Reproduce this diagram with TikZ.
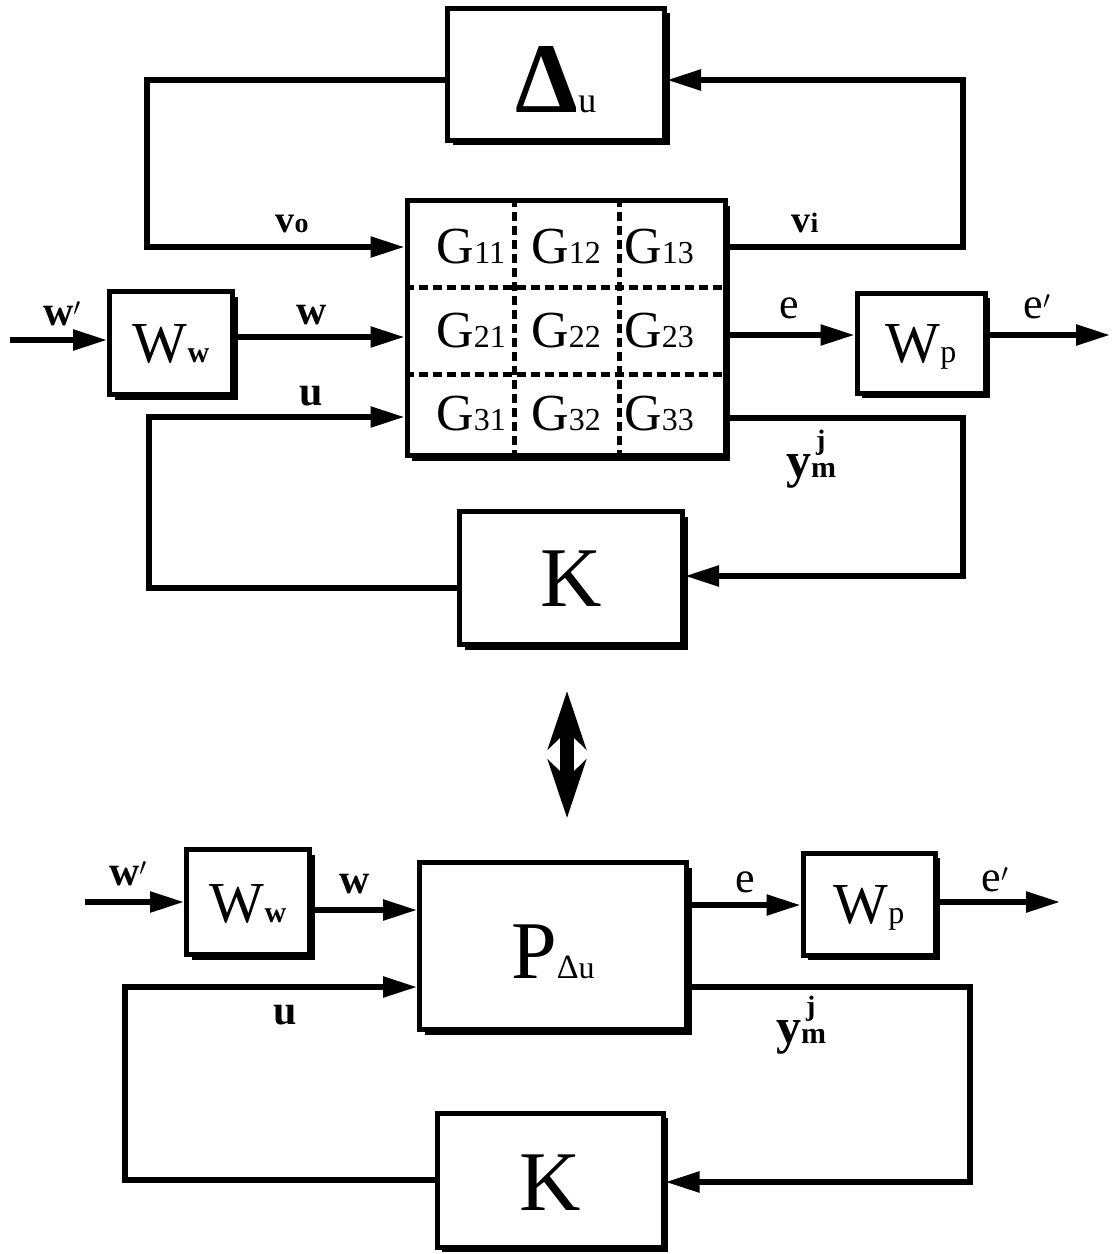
\documentclass[tikz,border=0pt]{standalone}
\usepackage{fontspec}
\setmainfont{Liberation Serif}
\usetikzlibrary{arrows.meta,shadows,calc}
\newcommand{\fsz}[1]{\fontsize{#1}{#1}\selectfont}
\begin{document}
\begin{tikzpicture}[x=1pt,y=-1pt,
  blk/.style={draw, line width=5pt, fill=white, inner sep=0pt,
    general shadow={fill=black, shadow xshift=5pt, shadow yshift=-5pt}},
  conn/.style={line width=5.5pt, line join=miter},
  arr/.style={conn, -{Triangle[length=34pt,width=20pt]}},
  sep/.style={line width=5pt, dash pattern=on 9pt off 5pt},
  lbl/.style={inner sep=0pt, anchor=base},
  dbl/.style={line width=14pt, {Stealth[length=58pt,width=38pt,inset=18pt]}-{Stealth[length=58pt,width=38pt,inset=18pt]}}
]
\useasboundingbox (0,0) rectangle (1113,1254);

% ---------------- top diagram ----------------
\node[blk, minimum width=217pt, minimum height=132pt] (Du) at (556,74) {};
\node[lbl] at (556,112) {\bfseries\fsz{100}Δ\mdseries\fsz{36}u};

\node[blk, minimum width=318pt, minimum height=255pt] (G) at (566,328) {};
\draw[sep] ($(G.north west)!0.34!(G.north east)$) -- ($(G.south west)!0.34!(G.south east)$);
\draw[sep] ($(G.north west)!0.665!(G.north east)$) -- ($(G.south west)!0.665!(G.south east)$);
\draw[sep] ($(G.north west)!0.345!(G.south west)$) -- ($(G.north east)!0.345!(G.south east)$);
\draw[sep] ($(G.north west)!0.68!(G.south west)$) -- ($(G.north east)!0.68!(G.south east)$);
\node[lbl] at (471,263) {\fsz{52}G\fsz{32}11};
\node[lbl] at (566,263) {\fsz{52}G\fsz{32}12};
\node[lbl] at (659,263) {\fsz{52}G\fsz{32}13};
\node[lbl] at (471,347) {\fsz{52}G\fsz{32}21};
\node[lbl] at (566,347) {\fsz{52}G\fsz{32}22};
\node[lbl] at (659,347) {\fsz{52}G\fsz{32}23};
\node[lbl] at (471,430) {\fsz{52}G\fsz{32}31};
\node[lbl] at (566,430) {\fsz{52}G\fsz{32}32};
\node[lbl] at (659,430) {\fsz{52}G\fsz{32}33};

\node[blk, minimum width=123pt, minimum height=103pt] (Ww) at (171,343) {};
\node[lbl] at (171,362) {\fsz{58}W\fsz{30}\bfseries w};

\node[blk, minimum width=128pt, minimum height=100pt] (Wp) at (921,343) {};
\node[lbl] at (921,362) {\fsz{58}W\fsz{32}p};

\node[blk, minimum width=223pt, minimum height=133pt] (K) at (571,578) {};
\node[lbl] at (571,606) {\fsz{85}K};

\coordinate (win) at (10,340);
\coordinate (eout) at (1110,335);

\draw[arr] (Du.west |- 0,80) -| (147,247) -- (G.west |- 0,247);
\draw[arr] (G.east |- 0,247) -| (963,80) -- (Du.east |- 0,80);
\draw[arr] (win) -- (Ww.west |- win);
\draw[arr] (Ww.east |- 0,337) -- (G.west |- 0,337);
\draw[arr] (K.west |- 0,588) -| (149,417) -- (G.west |- 0,417);
\draw[arr] (G.east |- 0,335) -- (Wp.west |- 0,335);
\draw[arr] (Wp.east |- eout) -- (eout);
\draw[arr] (G.east |- 0,418) -| (963,576) -- (K.east |- 0,576);

\node[lbl] at (292,232) {\bfseries\fsz{38}v\fsz{28}o};
\node[lbl] at (805,232) {\bfseries\fsz{38}v\fsz{28}i};
\node[lbl] at (62,325) {\bfseries\fsz{42}w$'$};
\node[lbl] at (312,324) {\bfseries\fsz{42}w};
\node[lbl] at (311,405) {\bfseries\fsz{42}u};
\node[lbl] at (789,318) {\fsz{44}e};
\node[lbl] at (1037,318) {\fsz{44}e$'$};
\node[lbl] at (811,477) {\bfseries\fsz{50}y\rlap{\hspace{5pt}\raisebox{28pt}{\fsz{28}j}}\fsz{30}m};

% ---------------- equivalence arrow ----------------
\coordinate (dA) at (567,691);
\coordinate (dB) at (567,818);
\draw[dbl] (dA) -- (dB);

% ---------------- bottom diagram ----------------
\node[blk, minimum width=123pt, minimum height=105pt] (Ww2) at (248,902) {};
\node[lbl] at (248,922) {\fsz{58}W\fsz{30}\bfseries w};

\node[blk, minimum width=267pt, minimum height=167pt] (P) at (553,946) {};
\node[lbl] at (553,978) {\fsz{82}P\fsz{34}Δ\fsz{32}u};

\node[blk, minimum width=132pt, minimum height=102pt] (Wp2) at (869,904) {};
\node[lbl] at (869,923) {\fsz{58}W\fsz{32}p};

\node[blk, minimum width=226pt, minimum height=134pt] (K2) at (550,1180) {};
\node[lbl] at (550,1210) {\fsz{85}K};

\coordinate (win2) at (85,902);
\coordinate (eout2) at (1060,902);

\draw[arr] (win2) -- (Ww2.west |- win2);
\draw[arr] (Ww2.east |- 0,910) -- (P.west |- 0,910);
\draw[arr] (P.east |- 0,905) -- (Wp2.west |- 0,905);
\draw[arr] (Wp2.east |- eout2) -- (eout2);
\draw[arr] (K2.west |- 0,1180) -| (125,987) -- (P.west |- 0,987);
\draw[arr] (P.east |- 0,987) -| (970,1182) -- (K2.east |- 0,1182);

\node[lbl] at (128,885) {\bfseries\fsz{42}w$'$};
\node[lbl] at (355,893) {\bfseries\fsz{42}w};
\node[lbl] at (285,1024) {\bfseries\fsz{42}u};
\node[lbl] at (745,892) {\fsz{44}e};
\node[lbl] at (995,891) {\fsz{44}e$'$};
\node[lbl] at (801,1043) {\bfseries\fsz{50}y\rlap{\hspace{5pt}\raisebox{28pt}{\fsz{28}j}}\fsz{30}m};
\end{tikzpicture}
\end{document}
